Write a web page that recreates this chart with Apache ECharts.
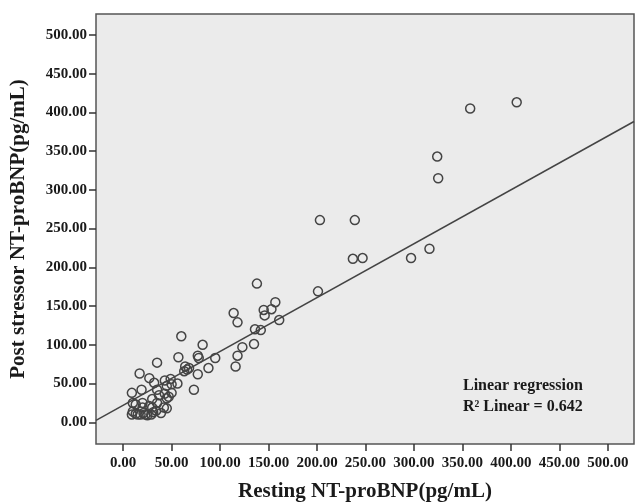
<!DOCTYPE html>
<html>
<head>
<meta charset="utf-8">
<script src="https://cdn.jsdelivr.net/npm/echarts@6/dist/echarts.min.js"></script>
<style>html,body{margin:0;padding:0;background:#fff}#c{width:636px;height:503px}</style>
</head>
<body>
<div id="c"></div>
<script>
// Resting NT-proBNP (x) and post stressor NT-proBNP (y), pg/mL
const restingX = [406,358,324,325,203,239,237,247,297,316,201,138,157,145,153,146,114,118,161,136,142,60,82,123,135,118,77,78,95,116,88,57,35,64,66,63,68,77,73,17,27,32,43,49,56,45,50,9,19,35,37,43,50,47,10,13,20,27,30,35,42,45,10,13,18,23,31,34,9,15,25,20,45,21,29,39,30];
const stressY  = [413,405,343,315,261,261,211,212,212,224,169,179,155,145,146,138,141,129,132,120,119,111,100,97,101,86,86,83,83,72,70,84,77,72,68,66,70,62,42,63,57,51,54,56,50,47,49,38,42,42,35,37,38,33,25,23,25,21,19,25,19,18,14,11,10,10,13,15,10,10,9,19,31,12,10,12,30];
const tickValues = [0,50,100,150,200,250,300,350,400,450,500];
const regression = { slope: 0.695, intercept: 22 };
const axisMin = -28, axisMax = 527;
const rSquared = 0.642;

const points = restingX.map((x, i) => [x, stressY[i]]);
const linePts = [axisMin, axisMax].map(x => [x, regression.intercept + regression.slope * x]);
const serif = '"Liberation Serif", "Times New Roman", serif';

const chart = echarts.init(document.getElementById('c'), null, { renderer: 'canvas' });
const axisCommon = {
  type: 'value', min: axisMin, max: axisMax,
  axisLine: { show: false, onZero: false },
  splitLine: { show: false },
  axisTick: { show: true, inside: false, length: 7, lineStyle: { color: '#333', width: 1.5 }, customValues: tickValues },
  axisLabel: { customValues: tickValues, formatter: v => v.toFixed(2), fontFamily: serif, fontWeight: 'bold', fontSize: 15, color: '#1a1a1a', hideOverlap: false },
  nameLocation: 'middle',
  nameTextStyle: { fontFamily: serif, fontWeight: 'bold', fontSize: 21, color: '#1a1a1a' }
};
chart.setOption({
  animation: false,
  backgroundColor: '#fff',
  grid: { left: 96, right: 2, top: 14, bottom: 59, show: true, backgroundColor: '#ebebeb', borderColor: '#555', borderWidth: 1.5, containLabel: false, outerBoundsMode: 'none' },
  xAxis: Object.assign({}, axisCommon, {
    name: 'Resting NT-proBNP(pg/mL)', nameGap: 37,
    axisLabel: Object.assign({}, axisCommon.axisLabel, { margin: 12 })
  }),
  yAxis: Object.assign({}, axisCommon, {
    name: 'Post stressor NT-proBNP(pg/mL)', nameGap: 67,
    axisLabel: Object.assign({}, axisCommon.axisLabel, { margin: 9 })
  }),
  series: [
    { type: 'line', data: linePts, showSymbol: false, symbol: 'none', lineStyle: { color: '#444', width: 1.5 }, z: 2, silent: true },
    { type: 'scatter', data: points, symbol: 'circle', symbolSize: 9,
      itemStyle: { color: 'rgba(0,0,0,0)', borderColor: '#444', borderWidth: 1.5, opacity: 1 }, z: 3 }
  ],
  graphic: [
    { type: 'text', left: 463, top: 378, style: { text: 'Linear regression', font: 'bold 16px ' + serif, fill: '#1a1a1a' } },
    { type: 'text', left: 463, top: 399, style: { text: 'R\u00b2 Linear = ' + rSquared.toFixed(3), font: 'bold 16px ' + serif, fill: '#1a1a1a' } }
  ]
});
</script>
</body>
</html>
